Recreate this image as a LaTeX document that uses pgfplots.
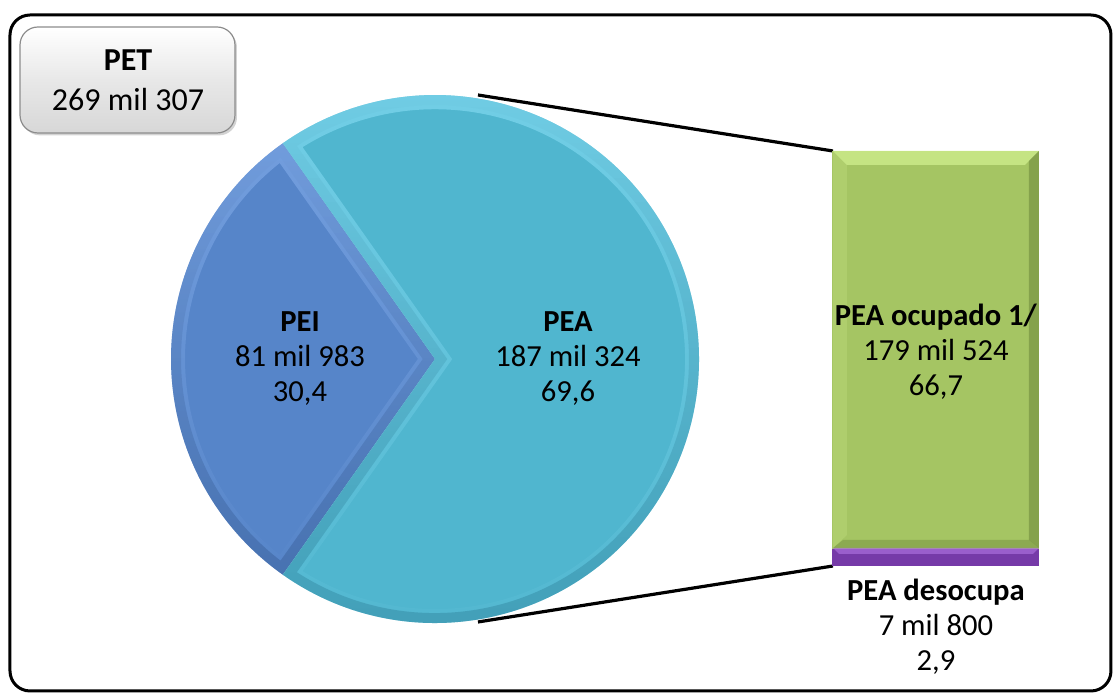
\documentclass[border=0pt]{standalone}
\usepackage{pgfplots}
\pgfplotsset{compat=1.18}
\usepackage{fontspec}
\setmainfont{Carlito}
\usetikzlibrary{shadows,fadings}

\definecolor{peiC}{RGB}{86,133,201}
\definecolor{peiL}{RGB}{140,180,240}
\definecolor{peiD}{RGB}{50,85,140}
\definecolor{peaC}{RGB}{80,182,207}
\definecolor{peaL}{RGB}{140,225,248}
\definecolor{peaD}{RGB}{40,120,145}
\definecolor{ocuC}{RGB}{165,197,99}
\definecolor{ocuL}{RGB}{205,236,140}
\definecolor{ocuD}{RGB}{95,120,50}
\definecolor{desC}{RGB}{118,58,168}
\definecolor{desL}{RGB}{170,110,220}

% values
\def\PEI{81983}
\def\PEA{187324}
\def\OCU{179524}
\def\DES{7800}

\newcommand\lab{\fontsize{15.3bp}{17.5bp}\selectfont}

\begin{document}
\begin{tikzpicture}
\edef\half{\fpeval{round(180*\PEI/(\PEI+\PEA),3)}}
\tikzset{px/.style={x=0.5bp,y=-0.5bp,yshift=347bp}}

% frame, PET box, connectors
\begin{scope}[px]
\draw[line width=1.5bp, rounded corners=10bp] (10,15) rectangle (1111,691);
\draw[rounded corners=9bp, top color=white, bottom color={rgb,255:red,215;green,215;blue,215},
      middle color={rgb,255:red,232;green,232;blue,232}, draw={rgb,255:red,140;green,140;blue,140},
      line width=0.6bp, drop shadow={shadow xshift=1bp, shadow yshift=-1.2bp, opacity=0.35}]
      (20,27) rectangle (235,133);
\draw[line width=1.6bp] (478,95) -- (833,151);
\draw[line width=1.6bp] (478,622) -- (833,566);
\end{scope}

% pie
\begin{axis}[at={(0,0)}, anchor=south west, width=558bp, height=347bp, scale only axis,
  xmin=0, xmax=1116, ymin=0, ymax=694, y dir=reverse, axis lines=none, clip=false]
\def\wedgeI{(axis cs:435,359) -- ++(180-\half:132bp) arc[start angle=180-\half, end angle=180+\half, radius=132bp] -- cycle}
\def\wedgeA{(axis cs:435,359) -- ++(180+\half:132bp) arc[start angle=180+\half, end angle=540-\half, radius=132bp] -- cycle}
\fill[peiC] \wedgeI;
\begin{scope}
\clip \wedgeI;
\draw[peiL, line width=14bp, opacity=0.55, path fading=south] \wedgeI;
\draw[peiD, line width=10bp, opacity=0.4, path fading=north] \wedgeI;
\end{scope}
\fill[peaC] \wedgeA;
\begin{scope}
\clip \wedgeA;
\draw[peaL, line width=14bp, opacity=0.6, path fading=south] \wedgeA;
\draw[peaD, line width=10bp, opacity=0.4, path fading=north] \wedgeA;
\end{scope}
\end{axis}

% bar of pie
\begin{axis}[at={(416bp,64bp)}, anchor=south west, width=103.5bp, height=207.5bp, scale only axis,
  xmin=-0.5, xmax=0.5, ymin=0, ymax=187324, axis lines=none, clip=false,
  ybar stacked, bar width=103.5bp]
\addplot[fill=desC, draw=none] coordinates {(0,\DES)};
\addplot[fill=ocuC, draw=none] coordinates {(0,\OCU)};
\end{axis}

\begin{scope}[px]
% bevels on the bar
\fill[ocuL, opacity=0.8] (833,151) -- (1039,151) -- (1025,165) -- (847,165) -- cycle;
\fill[ocuD, opacity=0.45] (1039,151) -- (1039,548) -- (1029,540) -- (1029,161) -- cycle;
\fill[ocuD, opacity=0.35] (833,548) -- (1039,548) -- (1029,540) -- (843,540) -- cycle;
\fill[ocuL, opacity=0.25] (833,151) -- (847,165) -- (847,535) -- (833,548) -- cycle;
\fill[desL, opacity=0.7] (833,548) -- (1039,548) -- (1033,554) -- (839,554) -- cycle;

% labels
\node[font=\fontsize{16bp}{20bp}\selectfont, align=center] at (128,80) {\textbf{PET}\\269 mil 307};
\node[font=\lab, align=center] at (300,359) {\textbf{PEI}\\81 mil 983\\30,4};
\node[font=\lab, align=center] at (568,359) {\textbf{PEA}\\187 mil 324\\69,6};
\node[font=\lab, align=center] at (936,352) {\textbf{PEA ocupado 1/}\\179 mil 524\\66,7};
\node[font=\lab, align=center] at (936,627) {\textbf{PEA desocupa}\\7 mil 800\\2,9};
\end{scope}

\pgfresetboundingbox
\path[use as bounding box] (0,0) rectangle (558bp,347bp);
\end{tikzpicture}
\end{document}
